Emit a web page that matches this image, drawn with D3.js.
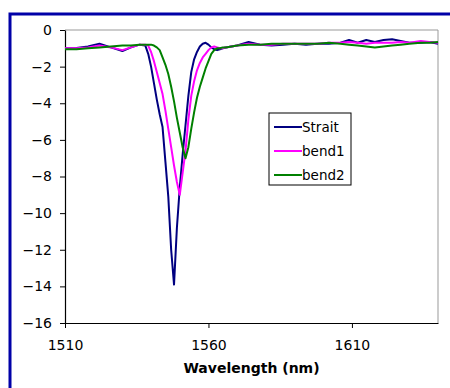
<!DOCTYPE html>
<html>
<head>
<meta charset="utf-8">
<script src="https://cdn.jsdelivr.net/npm/d3@7"></script>
<style>
  body { margin: 0; background: #fff; }
  text { font-family: "DejaVu Sans", sans-serif; }
</style>
</head>
<body>
<div id="chart"></div>
<script>
var wavelength = [1510, 1514, 1518, 1522, 1526, 1530, 1533, 1536, 1538, 1539,
  1540, 1541, 1542, 1543, 1544, 1545, 1546, 1547, 1548, 1549,
  1550, 1551, 1552, 1553, 1554, 1555, 1556, 1557, 1558, 1559,
  1560, 1561, 1562, 1563, 1564, 1565, 1566, 1570, 1574, 1578,
  1582, 1586, 1590, 1594, 1598, 1602, 1606, 1609, 1612, 1615,
  1618, 1621, 1624, 1627, 1630, 1634, 1637, 1640];

var strait = [-1.0, -0.98, -0.9, -0.75, -0.95, -1.15, -0.95, -0.8, -0.85, -1.3,
  -2.0, -2.9, -3.8, -4.6, -5.3, -7.2, -9.1, -12.0, -13.9, -10.8,
  -8.6, -6.8, -5.2, -3.6, -2.3, -1.6, -1.2, -0.9, -0.75, -0.7,
  -0.8, -0.95, -1.05, -1.1, -1.05, -1.0, -0.95, -0.85, -0.65, -0.8,
  -0.85, -0.8, -0.75, -0.8, -0.75, -0.75, -0.7, -0.55, -0.7, -0.55,
  -0.65, -0.55, -0.5, -0.6, -0.7, -0.7, -0.65, -0.75];

var bend1 = [-1.0, -1.0, -0.95, -0.85, -0.95, -1.1, -0.95, -0.8, -0.8, -0.85,
  -1.2, -1.7, -2.3, -2.9, -3.5, -4.4, -5.4, -6.4, -7.4, -8.3,
  -9.0, -7.8, -6.6, -4.9, -3.6, -2.8, -2.2, -1.8, -1.5, -1.3,
  -1.1, -0.95, -0.9, -0.95, -1.0, -1.0, -0.95, -0.85, -0.75, -0.8,
  -0.8, -0.75, -0.75, -0.75, -0.75, -0.7, -0.7, -0.65, -0.7, -0.75,
  -0.7, -0.7, -0.7, -0.65, -0.7, -0.6, -0.65, -0.7];

var bend2 = [-1.05, -1.05, -1.0, -0.95, -0.9, -0.85, -0.85, -0.8, -0.8, -0.8,
  -0.8, -0.85, -0.95, -1.1, -1.5, -1.9, -2.4, -3.1, -3.9, -4.8,
  -5.6, -6.4, -7.0, -6.4, -5.4, -4.5, -3.7, -3.1, -2.6, -2.1,
  -1.7, -1.3, -1.1, -1.0, -1.0, -0.95, -0.95, -0.85, -0.8, -0.8,
  -0.75, -0.75, -0.75, -0.75, -0.75, -0.7, -0.75, -0.8, -0.85, -0.9,
  -0.95, -0.9, -0.85, -0.8, -0.75, -0.7, -0.7, -0.65];

var seriesNames = ['Strait', 'bend1', 'bend2'];
var seriesColors = ['#000080', '#ff00ff', '#008000'];
var xTicks = [1510, 1560, 1610];
var yTicks = [0, -2, -4, -6, -8, -10, -12, -14, -16];

var width = 450;
var height = 388;
var plot = {left: 65, top: 30, right: 438, bottom: 323};

var svg = d3.select('#chart')
    .append('svg')
    .attr('width', width)
    .attr('height', height);

// outer blue frame
svg.append('rect')
    .attr('x', 10)
    .attr('y', 14)
    .attr('width', 460)
    .attr('height', 400)
    .attr('fill', 'none')
    .attr('stroke', '#0000a8')
    .attr('stroke-width', 3);

var x = d3.scaleLinear()
    .domain([1510, 1640])
    .range([plot.left, plot.right]);

var y = d3.scaleLinear()
    .domain([-16, 0])
    .range([plot.bottom, plot.top]);

// plot area border (top and right)
svg.append('path')
    .attr('d', 'M' + plot.left + ',' + plot.top + 'H' + plot.right + 'V' + plot.bottom)
    .attr('fill', 'none')
    .attr('stroke', '#999')
    .attr('stroke-width', 1);

// Axes
svg.append('g')
    .attr('transform', 'translate(0,' + plot.bottom + ')')
    .call(d3.axisBottom(x).tickValues(xTicks).tickFormat(d3.format('d'))
      .tickSize(5).tickPadding(12).tickSizeOuter(0));

svg.append('g')
    .attr('transform', 'translate(' + plot.left + ',0)')
    .call(d3.axisLeft(y).tickValues(yTicks).tickSize(5).tickPadding(8).tickSizeOuter(0));

svg.selectAll('.domain').attr('stroke', '#000').attr('stroke-width', 1.2);
svg.selectAll('.tick line').attr('stroke', '#000');
svg.selectAll('.tick text')
    .attr('font-size', 14)
    .attr('fill', '#000')
    .style('font-family', '"DejaVu Sans", sans-serif');

svg.append('text')
    .attr('x', (plot.left + plot.right) / 2)
    .attr('y', 373)
    .attr('text-anchor', 'middle')
    .attr('font-size', 14)
    .attr('font-weight', 'bold')
    .text('Wavelength (nm)');

// Lines
var seriesData = [strait, bend1, bend2];
var line = d3.line()
    .x(function(d, i) { return x(wavelength[i]); })
    .y(function(d) { return y(d); });

svg.selectAll('path.series')
    .data(seriesData)
    .enter()
    .append('path')
    .attr('class', 'series')
    .attr('d', line)
    .attr('fill', 'none')
    .attr('stroke', function(d, i) { return seriesColors[i]; })
    .attr('stroke-width', 2)
    .attr('stroke-linejoin', 'round');

// Legend
var legend = svg.append('g');
legend.append('rect')
    .attr('x', 269)
    .attr('y', 113)
    .attr('width', 82)
    .attr('height', 72)
    .attr('fill', '#fff')
    .attr('stroke', '#000')
    .attr('stroke-width', 1);

var items = legend.selectAll('g.item')
    .data(seriesNames)
    .enter()
    .append('g')
    .attr('class', 'item')
    .attr('transform', function(d, i) { return 'translate(0,' + (127 + i * 24) + ')'; });

items.append('line')
    .attr('x1', 274)
    .attr('x2', 302)
    .attr('stroke', function(d, i) { return seriesColors[i]; })
    .attr('stroke-width', 2);

items.append('text')
    .attr('x', 302)
    .attr('y', 5)
    .attr('font-size', 13.5)
    .text(function(d) { return d; });
</script>
</body>
</html>
